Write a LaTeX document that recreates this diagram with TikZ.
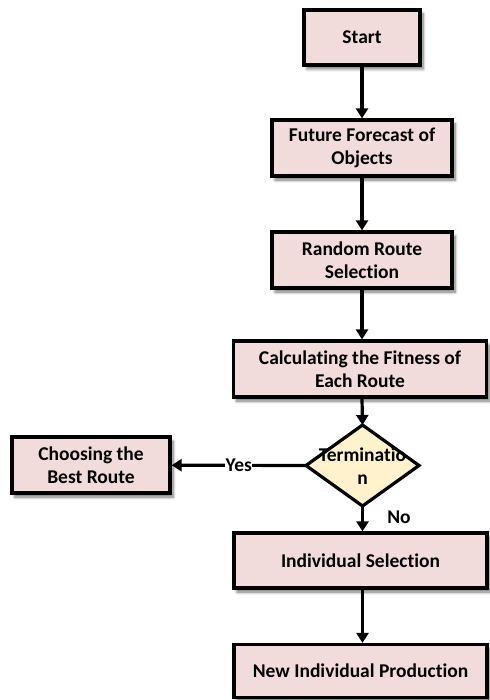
\documentclass[tikz,border=0pt]{standalone}
\usepackage{fontspec}
\setmainfont{Carlito}[Ligatures={NoCommon}]
\usetikzlibrary{arrows.meta,shadows.blur}
\definecolor{boxfill}{HTML}{F2DCDB}
\definecolor{decfill}{HTML}{FFF2CC}
\tikzset{
  txt/.style={font=\fontsize{19.5}{23}\selectfont\bfseries},
  stepbox/.style={draw=black, line width=3.2pt, fill=boxfill, rectangle,
    inner sep=0pt, align=center, txt,
    blur shadow={shadow xshift=3pt, shadow yshift=-4pt, shadow blur steps=8, shadow blur radius=3pt, shadow opacity=55}},
  flow/.style={line width=3.2pt, -{Triangle[length=10pt,width=12pt]}},
  lbl/.style={txt, inner sep=1pt}
}
\begin{document}
\begin{tikzpicture}[x=1pt,y=-1pt]
  \useasboundingbox (0,0) rectangle (489,700);
  \node[stepbox, minimum width=116pt, minimum height=55pt] (start) at (362,37.5) {Start};
  \node[stepbox, minimum width=180pt, minimum height=56pt] (forecast) at (362,148) {Future Forecast of\\Objects};
  \node[stepbox, minimum width=180pt, minimum height=56pt] (random) at (362,260) {Random Route\\Selection};
  \node[stepbox, minimum width=253pt, minimum height=56pt] (fitness) at (360,369) {Calculating the Fitness of\\Each Route};
  % decision diamond drawn as a polygon so the label may overflow it
  \coordinate (dtop) at (362.5,425);
  \coordinate (dleft) at (306,465.5);
  \coordinate (dright) at (419,465.5);
  \coordinate (dbot) at (362.5,506);
  \filldraw[line width=3.2pt, fill=decfill, line join=miter] (dtop) -- (dright) -- (dbot) -- (dleft) -- cycle;
  \node[lbl, align=center] (term) at (362.5,466) {Terminatio\\n};
  \node[stepbox, minimum width=158pt, minimum height=56pt] (best) at (91,465) {Choosing the\\Best Route};
  \node[stepbox, minimum width=253pt, minimum height=55pt] (select) at (360.5,560.5) {Individual Selection};
  \node[stepbox, minimum width=253pt, minimum height=53pt] (produce) at (360.5,671) {New Individual Production};

  \draw[flow] (start) -- (forecast);
  \draw[flow] (forecast) -- (random);
  \draw[flow] (random.south -| start) -- (fitness.north -| start);
  \draw[flow] (fitness.south -| start) -- (dtop);
  \draw[flow] (dleft) -- node[lbl, fill=white, inner sep=0.5pt] (yes) {Yes} (best);
  \draw[flow] (dbot) -- (select.north -| dbot);
  \node[lbl] (no) at (399,517) {No};
  \draw[flow] (select.south -| dbot) -- (produce.north -| dbot);
\end{tikzpicture}
\end{document}
